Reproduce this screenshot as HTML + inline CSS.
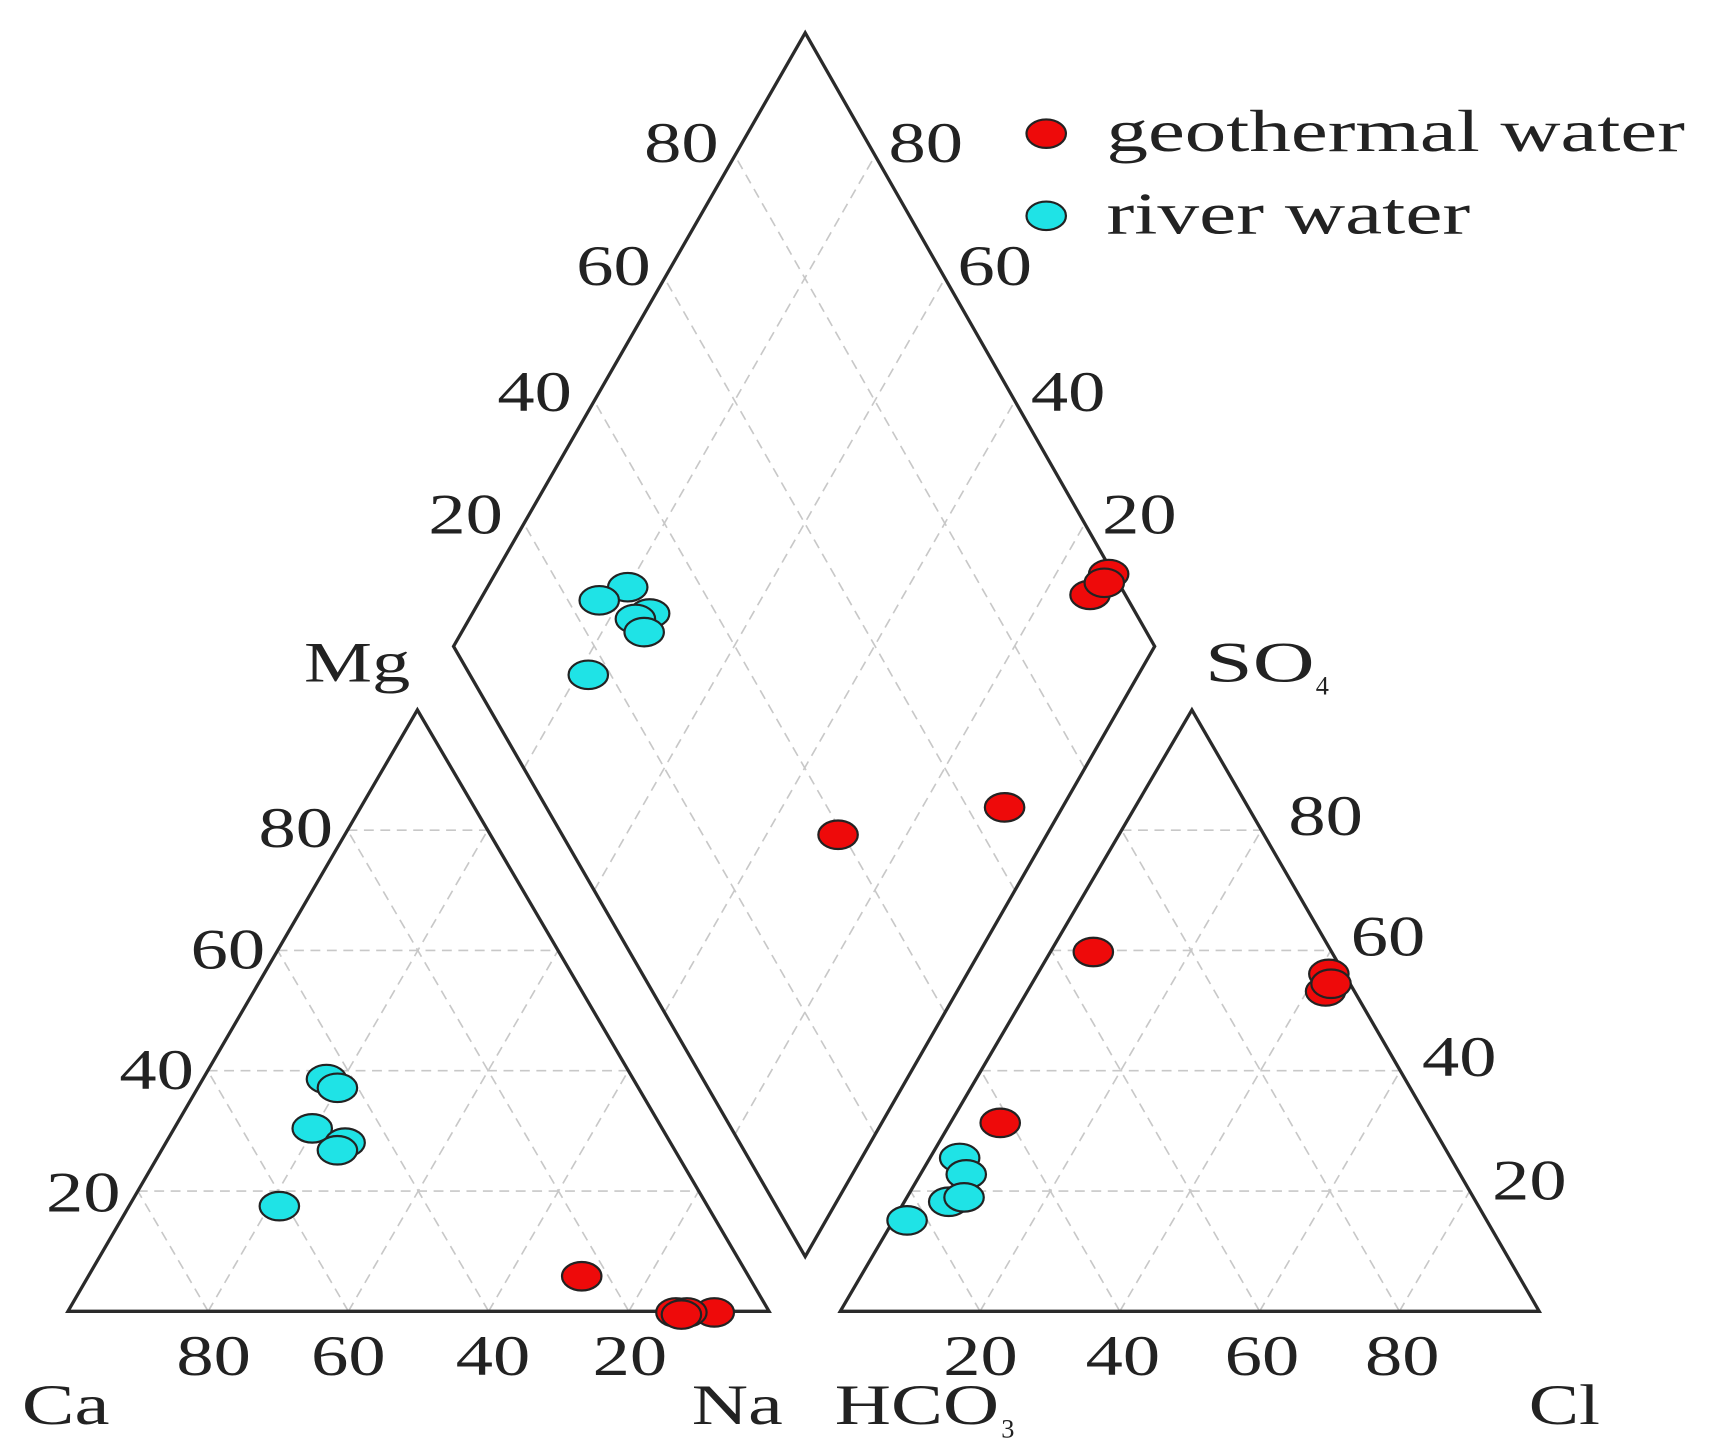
<!DOCTYPE html>
<html><head><meta charset="utf-8"><style>
html,body{margin:0;padding:0;background:#fff}
svg{display:block}
text{font-family:"Liberation Serif",serif;fill:#222}
</style></head><body>
<svg id="s" width="1709" height="1450" viewBox="0 0 1560 1323.6" preserveAspectRatio="none" xmlns="http://www.w3.org/2000/svg">
<g id="grid" stroke="#c8c8c8" stroke-width="1.5" stroke-dasharray="9,6" fill="none"></g>
<g stroke="#2a2a2a" stroke-width="3" fill="none">
<polygon points="62,1197 702,1197 381,648"/>
<polygon points="767,1197 1405,1197 1088,648"/>
<polygon points="735,1147 414,590 735,30 1054,590"/>
</g>
<g id="lbl" font-size="52" text-anchor="middle">
<text x="270" y="773" textLength="68">80</text><text x="208" y="884" textLength="68">60</text><text x="143" y="994" textLength="68">40</text><text x="76" y="1106" textLength="68">20</text>
<text x="195" y="1255" textLength="68">80</text><text x="318" y="1255" textLength="68">60</text><text x="450" y="1255" textLength="68">40</text><text x="575" y="1255" textLength="68">20</text>
<text x="895" y="1255" textLength="68">20</text><text x="1025" y="1255" textLength="68">40</text><text x="1152" y="1255" textLength="68">60</text><text x="1280" y="1255" textLength="68">80</text>
<text x="1210" y="762" textLength="68">80</text><text x="1267" y="872" textLength="68">60</text><text x="1332" y="982" textLength="68">40</text><text x="1396" y="1095" textLength="68">20</text>
<text x="622" y="148" textLength="68">80</text><text x="560" y="260" textLength="68">60</text><text x="488" y="375" textLength="68">40</text><text x="425" y="487" textLength="68">20</text>
<text x="845" y="148" textLength="68">80</text><text x="908" y="260" textLength="68">60</text><text x="975" y="375" textLength="68">40</text><text x="1040" y="487" textLength="68">20</text>
<text x="326" y="622" textLength="97">Mg</text>
<text x="60" y="1300" textLength="80">Ca</text><text x="673" y="1300" textLength="83">Na</text>
<text x="1428" y="1300" textLength="65">Cl</text>
</g>
<g font-size="52">
<text x="1100" y="622" textLength="100" lengthAdjust="spacingAndGlyphs">SO</text><text x="1201" y="634" font-size="24">4</text>
<text x="762" y="1300" textLength="150" lengthAdjust="spacingAndGlyphs">HCO</text><text x="914" y="1312" font-size="24">3</text>
</g>
<g font-size="54">
<text x="1010" y="138" textLength="528" lengthAdjust="spacingAndGlyphs">geothermal water</text>
<text x="1010" y="213" textLength="332" lengthAdjust="spacingAndGlyphs">river water</text>
</g>
<g id="pts" stroke="#222" stroke-width="2"></g>
</svg>
<script>
var ns="http://www.w3.org/2000/svg",g=document.getElementById("grid");
document.querySelectorAll("#lbl text").forEach(function(t){t.setAttribute("lengthAdjust","spacingAndGlyphs");});
function ln(a,b){var l=document.createElementNS(ns,"line");l.setAttribute("x1",a[0]);l.setAttribute("y1",a[1]);l.setAttribute("x2",b[0]);l.setAttribute("y2",b[1]);g.appendChild(l);}
function lp(a,b,k){return [a[0]+k*(b[0]-a[0]),a[1]+k*(b[1]-a[1])];}
function tri(A,B,C){for(var i=1;i<5;i++){var k=i/5;
ln(lp(A,C,k),lp(B,C,k));ln(lp(A,B,k),lp(C,B,k));ln(lp(B,A,k),lp(C,A,k));}}
tri([62,1197],[702,1197],[381,648]);tri([767,1197],[1405,1197],[1088,648]);
var D=[735,1147],L=[414,590],T=[735,30],R=[1054,590];
for(var i=1;i<5;i++){var k=i/5;ln(lp(D,R,k),lp(L,T,k));ln(lp(D,L,k),lp(R,T,k));}
var p=document.getElementById("pts");
function pt(x,y,c){var e=document.createElementNS(ns,"ellipse");e.setAttribute("cx",x);e.setAttribute("cy",y);e.setAttribute("rx",18);e.setAttribute("ry",13);e.setAttribute("fill",c);p.appendChild(e);}
var cy="#1fe3e6",rd="#ee0a0a";
[[573,536],[547,548],[593,560],[580,565],[588,577],[537,616],[298,985],[308,993],[285,1030],[315,1043],[308,1050],[255,1101],[876,1057],[882,1072],[866,1097],[880,1093],[828,1114],[955,197]].forEach(function(q){pt(q[0],q[1],cy)});
[[1012,524],[995,543],[1008,532],[917,737],[765,762],[531,1165],[617,1198],[652,1198],[627,1198],[622,1200],[913,1025],[998,869],[1210,905],[1213,889],[1215,898],[955,122]].forEach(function(q){pt(q[0],q[1],rd)});
</script>
</body></html>
